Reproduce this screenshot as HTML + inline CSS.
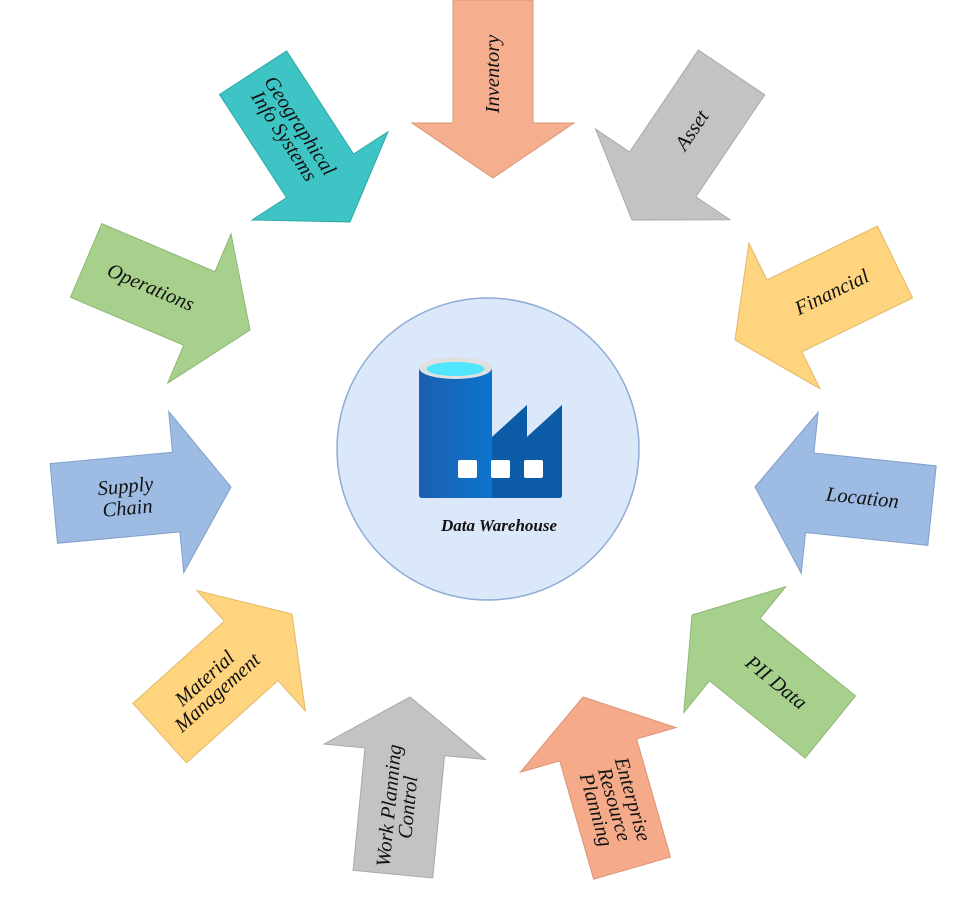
<!DOCTYPE html>
<html><head><meta charset="utf-8"><style>
html,body{margin:0;padding:0;background:#fff;}
svg{display:block;}
text{font-family:"Liberation Serif",serif;font-style:italic;font-size:20.5px;fill:#111;}
</style></head><body>
<svg width="975" height="897" viewBox="0 0 975 897" xmlns="http://www.w3.org/2000/svg">
<defs>
<linearGradient id="cyl" x1="0" x2="1" y1="0" y2="0">
<stop offset="0" stop-color="#1b5fae"/><stop offset="0.6" stop-color="#0a78d4"/><stop offset="1" stop-color="#0c5ba6"/>
</linearGradient>
</defs>

<!-- Inventory -->
<g transform="translate(493,178) rotate(90)">
<polygon points="-178,-40 -55,-40 -55,-81 0,0 -55,81 -55,40 -178,40" fill="#f5ae8e" stroke="#d99578"/>
<text transform="translate(-104,0) rotate(180)" text-anchor="middle" dy="6">Inventory</text></g>
<!-- GIS -->
<g transform="translate(350,222) rotate(57)">
<polygon points="-178,-40 -55,-40 -55,-81 0,0 -55,81 -55,40 -178,40" fill="#3ec4c4" stroke="#2ea8a8"/>
<text transform="translate(-108,0)" text-anchor="middle"><tspan x="0" dy="-4">Geographical</tspan><tspan x="0" dy="19">Info Systems</tspan></text></g>
<!-- Asset -->
<g transform="translate(632,220) rotate(124)">
<polygon points="-178,-40 -55,-40 -55,-81 0,0 -55,81 -55,40 -178,40" fill="#c3c3c3" stroke="#a8a8a8"/>
<text transform="translate(-108,0) rotate(180)" text-anchor="middle" dy="6">Asset</text></g>
<!-- Financial -->
<g transform="translate(735,340) rotate(154)">
<polygon points="-178,-40 -55,-40 -55,-81 0,0 -55,81 -55,40 -178,40" fill="#ffd47e" stroke="#e0b867"/>
<text transform="translate(-108,0) rotate(180)" text-anchor="middle" dy="6">Financial</text></g>
<!-- Location -->
<g transform="translate(755,487) rotate(186)">
<polygon points="-178,-40 -55,-40 -55,-81 0,0 -55,81 -55,40 -178,40" fill="#9dbbe3" stroke="#7f9fca"/>
<text transform="translate(-108,0) rotate(180)" text-anchor="middle" dy="6">Location</text></g>
<!-- PII -->
<g transform="translate(692,615) rotate(219)">
<polygon points="-178,-40 -55,-40 -55,-81 0,0 -55,81 -55,40 -178,40" fill="#a8d08d" stroke="#8cb672"/>
<text transform="translate(-108,0) rotate(180)" text-anchor="middle" dy="6">PII Data</text></g>
<!-- ERP -->
<g transform="translate(583,697) rotate(254)">
<polygon points="-178,-40 -55,-40 -55,-81 0,0 -55,81 -55,40 -178,40" fill="#f5ab8a" stroke="#d99578"/>
<text transform="translate(-112,0) rotate(180)" text-anchor="middle"><tspan x="0" dy="-13">Enterprise</tspan><tspan x="0" dy="19">Resource</tspan><tspan x="0" dy="19">Planning</tspan></text></g>
<!-- WPC -->
<g transform="translate(410,697) rotate(275.5)">
<polygon points="-178,-40 -55,-40 -55,-81 0,0 -55,81 -55,40 -178,40" fill="#c3c3c3" stroke="#a8a8a8"/>
<text transform="translate(-110,0)" text-anchor="middle"><tspan x="0" dy="-4">Work Planning</tspan><tspan x="0" dy="19">Control</tspan></text></g>
<!-- Material -->
<g transform="translate(292,614) rotate(-42)">
<polygon points="-178,-40 -55,-40 -55,-81 0,0 -55,81 -55,40 -178,40" fill="#ffd47e" stroke="#e0b867"/>
<text transform="translate(-108,0)" text-anchor="middle"><tspan x="0" dy="-4">Material</tspan><tspan x="0" dy="19">Management</tspan></text></g>
<!-- Supply -->
<g transform="translate(231,487) rotate(-5.3)">
<polygon points="-178,-40 -55,-40 -55,-81 0,0 -55,81 -55,40 -178,40" fill="#9dbbe3" stroke="#7f9fca"/>
<text transform="translate(-105,0)" text-anchor="middle"><tspan x="0" dy="-4">Supply</tspan><tspan x="0" dy="22">Chain</tspan></text></g>
<!-- Operations -->
<g transform="translate(250,330) rotate(23)">
<polygon points="-178,-40 -55,-40 -55,-81 0,0 -55,81 -55,40 -178,40" fill="#a8d08d" stroke="#8cb672"/>
<text transform="translate(-108,0)" text-anchor="middle" dy="6">Operations</text></g>

<!-- Center -->
<circle cx="488" cy="449" r="151" fill="#dae8f9" stroke="#8fabd6" stroke-width="1.5"/>
<path d="M419,368 L492,368 L492,437 L527,405 L527,437 L562,405 L562,495 Q562,498 559,498 L422,498 Q419,498 419,495 Z" fill="url(#cyl)"/>
<path d="M492,437 L527,405 L527,437 L562,405 L562,495 Q562,498 559,498 L492,498 Z" fill="#0c5ba6"/>
<ellipse cx="455.5" cy="368" rx="36.5" ry="11" fill="#e0e0e0"/>
<ellipse cx="455.5" cy="369" rx="29" ry="7" fill="#50e6ff"/>
<rect x="458" y="460" width="19" height="18" rx="2" fill="#fff"/>
<rect x="491" y="460" width="19" height="18" rx="2" fill="#fff"/>
<rect x="524" y="460" width="19" height="18" rx="2" fill="#fff"/>
<text x="499" y="531" text-anchor="middle" style="font-weight:bold;font-size:17px">Data Warehouse</text>
</svg>
</body></html>
